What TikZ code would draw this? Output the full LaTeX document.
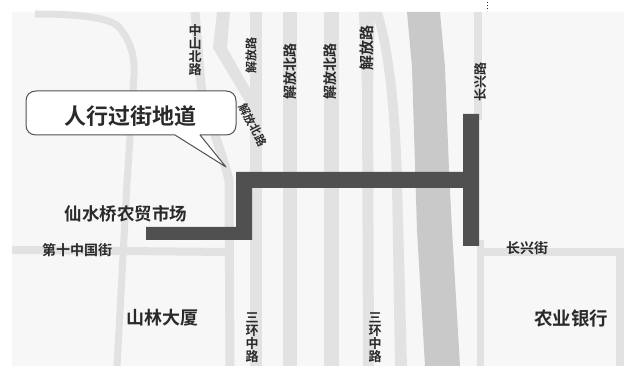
\documentclass[tikz,border=0pt]{standalone}
\usepackage{fontspec}
\newfontfamily\cjk{Noto Sans CJK SC}[BoldFont={Noto Sans CJK SC Bold}]
\definecolor{bgc}{HTML}{F7F7F7}
\definecolor{roadc}{HTML}{E2E2E2}
\definecolor{riverc}{HTML}{C9C9C9}
\definecolor{darkc}{HTML}{505050}
\definecolor{inkc}{HTML}{2A2A2A}
\tikzset{
  roadline/.style={draw=roadc,line width=#1,line join=round},
  roadline/.default=7pt,
  lbl/.style={inner sep=0pt,text=inkc,font=\cjk\bfseries\fontsize{#1}{#1}\selectfont},
  vlbl/.style={inner sep=0pt,text=inkc,align=center,font=\cjk\bfseries\fontsize{#1}{#1}\selectfont},
  blk/.style={fill=darkc,draw=none}
}
\begin{document}
\begin{tikzpicture}[x=1pt,y=-1pt]
\useasboundingbox (0,0) rectangle (624,366);
\fill[white] (0,0) rectangle (624,366);
\fill[bgc] (12,12) rectangle (624,366);
% left curved road
\draw[roadline=7pt] (35,14) .. controls (70,14) and (105,16) .. (118,26) .. controls (130,40) and (135,55) .. (134,75) -- (127,183) -- (117,366);
% west-east roads
\draw[roadline=8pt] (12,250) -- (230,252);
\draw[roadline=8pt] (480,252) -- (624,252);
% upper-left oblique roads
\draw[roadline=9pt] (195,12) -- (201,85) .. controls (206,115) and (220,145) .. (229,180) -- (230,366);
\fill[roadc] (217,12) -- (230,12) -- (227,48) -- (262,110) -- (250,110) -- (213,48) -- cycle;
% straight roads
\fill[roadc] (250,12) rectangle (262,366);
\fill[roadc] (283,12) rectangle (297,366);
\fill[roadc] (324,12) rectangle (339,366);
\fill[roadc] (359,12) -- (375,12) -- (373,90) -- (374,366) -- (363,366) -- (362,90) -- cycle;
\fill[roadc] (372,12) -- (382,12) .. controls (392,45) and (400,100) .. (402,183) -- (407,366) -- (395,366) -- (392,183) .. controls (390,100) and (383,45) .. (372,12) -- cycle;
% river
\fill[riverc] (407,12) -- (440,12) -- (445,67) -- (449,170) -- (452,230) -- (460,366) -- (425,366) -- (417,230) -- (412,67) -- cycle;
% right roads
\fill[roadc] (474,12) rectangle (482,120);
\fill[roadc] (477,240) rectangle (484,366);
\fill[roadc] (616,252) rectangle (624,366);
% underpass
\fill[blk] (463,114) -- (479,114) -- (479,246) -- (463,246) -- (463,188) -- (252,188) -- (252,240) -- (146,240) -- (146,227) -- (236,227) -- (236,172) -- (463,172) -- cycle;
% callout
\draw[fill=white,draw=darkc,line width=1pt,line join=round]
  (36,91) -- (226,91) .. controls (232,91) and (236,95) .. (236,101) -- (236,125)
  .. controls (236,131) and (232,135) .. (226,135) -- (200,135) -- (226,167) -- (175,135) -- (36,135)
  .. controls (30,135) and (26,131) .. (26,125) -- (26,101) .. controls (26,95) and (30,91) .. (36,91) -- cycle;
\node[lbl=22] (title) at (130.5,116) {人行过街地道};
\node[lbl=17.5] (market) at (126,214) {仙水桥农贸市场};
\node[lbl=14] (west) at (77,250) {第十中国街};
\node[lbl=18] (mansion) at (162,318) {山林大厦};
\node[lbl=18.5] (bank) at (571,318) {农业银行};
\node[lbl=14] (east) at (527,248) {长兴街};
\node[vlbl=13] (v1) at (195,50) {中\\山\\北\\路};
\node[vlbl=12,rotate=90] (v2) at (251,56) {解放路};
\node[lbl=14,rotate=90] (v3) at (290,72) {解放北路};
\node[lbl=14,rotate=90] (v4) at (330,72) {解放北路};
\node[vlbl=15,rotate=90] (v5) at (367,48) {解放路};
\node[vlbl=13,rotate=90] (v6) at (481,82) {长兴路};
\node[lbl=11.5,rotate=-63] (v7) at (253,125) {解放北路};
\node[vlbl=13] (v8) at (252,338) {三\\环\\中\\路};
\node[vlbl=13] (v9) at (375,338) {三\\环\\中\\路};
\draw[dotted,inkc,line width=1pt] (487.7,2) -- (487.7,11);
\end{tikzpicture}
\end{document}
